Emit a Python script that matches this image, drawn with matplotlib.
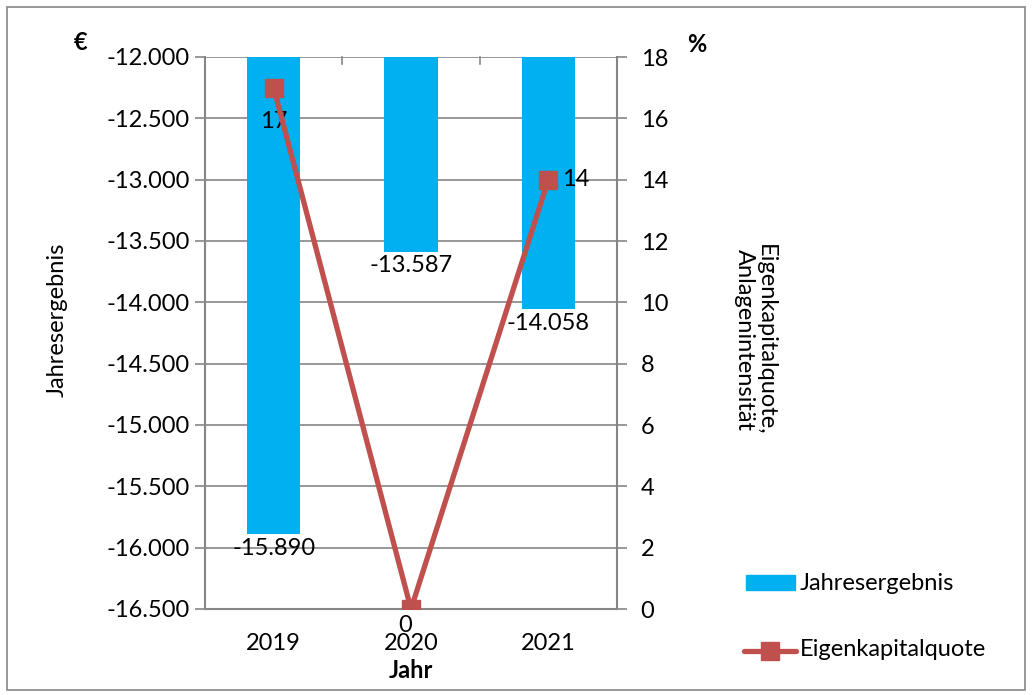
import matplotlib.pyplot as plt
from matplotlib.patches import Rectangle
from matplotlib.lines import Line2D

plt.rcParams['font.family'] = ['Lato', 'DejaVu Sans']

jahre = ['2019', '2020', '2021']
ergebnis = [-15890, -13587, -14058]
ekq = [17, 0, 14]

blau = '#00B0F0'
rot = '#C0504D'
grau = '#868686'
fs = 17


def fmt(v):
    return f"{v:,.0f}".replace(",", ".")


fig = plt.figure(figsize=(10.33, 6.95), dpi=100)
ax = fig.add_axes([205 / 1033, 1 - 609 / 695, 412 / 1033, 552 / 695])
ax2 = ax.twinx()

x = list(range(len(jahre)))
ymin, ymax = -16500, -12000
ax.bar(x, [v - ymax for v in ergebnis], bottom=ymax, width=0.39, color=blau, zorder=2)
ax.set_ylim(ymin, ymax)
ax.set_xlim(-0.5, 2.5)
ticks = list(range(ymin, ymax + 1, 500))
ax.set_yticks(ticks)
ax.set_yticklabels([fmt(t) for t in ticks], fontsize=fs)
ax.yaxis.grid(True, color=grau, lw=1.2, zorder=0)
ax.set_axisbelow(True)
ax.set_xticks(x)
ax.set_xticklabels(jahre, fontsize=fs)
ax.tick_params(axis='x', length=0, pad=17)
ax.tick_params(axis='y', length=7, width=1.2, color=grau, pad=4)
for s in ['left', 'bottom']:
    ax.spines[s].set_color(grau)
    ax.spines[s].set_linewidth(1.5)
for s in ['top', 'right']:
    ax.spines[s].set_visible(False)
# kleine Kategorie-Striche oben
for xt in [0.5, 1.5]:
    ax.plot([xt, xt], [ymax, ymax - 60], color=grau, lw=1.2, clip_on=False, zorder=1)

# Balken-Beschriftungen
for xi, v in zip(x, ergebnis):
    ax.text(xi, v - 30, fmt(v), ha='center', va='top', fontsize=fs, zorder=5)

ax2.plot(x, ekq, color=rot, lw=3.8, marker='s', markersize=13, zorder=4)
ax2.set_ylim(0, 18)
ax2.set_yticks(range(0, 19, 2))
ax2.set_yticklabels([str(t) for t in range(0, 19, 2)], fontsize=fs)
ax2.tick_params(axis='y', length=7, width=1.2, color=grau, pad=10)
for s in ['left', 'top', 'bottom']:
    ax2.spines[s].set_visible(False)
ax2.spines['right'].set_color(grau)
ax2.spines['right'].set_linewidth(1.5)
ax2.text(0, 17 - 0.75, '17', ha='center', va='top', fontsize=fs)
ax2.text(1 - 0.04, -0.2, '0', ha='center', va='top', fontsize=fs)
ax2.text(2 + 0.1, 14, '14', ha='left', va='center', fontsize=fs)

fig.text(57 / 1033, 1 - 320 / 695, 'Jahresergebnis', rotation=90, ha='center', va='center', fontsize=fs)
fig.text(755 / 1033, 1 - 340 / 695, 'Eigenkapitalquote,\nAnlagenintensität', rotation=-90,
         ha='center', va='center', fontsize=fs, linespacing=1.0)
fig.text(81 / 1033, 1 - 42 / 695, '€', ha='center', va='center', fontsize=fs, fontweight='bold')
fig.text(697 / 1033, 1 - 45 / 695, '%', ha='center', va='center', fontsize=fs, fontweight='bold')
fig.text(411 / 1033, 1 - 671 / 695, 'Jahr', ha='center', va='center', fontsize=fs, fontweight='bold')

# Legende
fig.patches.append(Rectangle((746 / 1033, 1 - 590 / 695), 49 / 1033, 15 / 695,
                             transform=fig.transFigure, color=blau))
fig.text(800 / 1033, 1 - 583 / 695, 'Jahresergebnis', ha='left', va='center', fontsize=fs)
fig.lines.append(Line2D([744 / 1033, 796 / 1033], [1 - 651 / 695] * 2, transform=fig.transFigure,
                        color=rot, lw=3.8, solid_capstyle='round'))
fig.lines.append(Line2D([770 / 1033], [1 - 651 / 695], transform=fig.transFigure,
                        color=rot, marker='s', markersize=13, lw=0))
fig.text(800 / 1033, 1 - 650 / 695, 'Eigenkapitalquote', ha='left', va='center', fontsize=fs)

fig.patches.append(Rectangle((7 / 1033, 5 / 695), 1018 / 1033, 683 / 695, transform=fig.transFigure,
                             fill=False, edgecolor=grau, lw=1.2))

fig.savefig('out.png', dpi=100)
